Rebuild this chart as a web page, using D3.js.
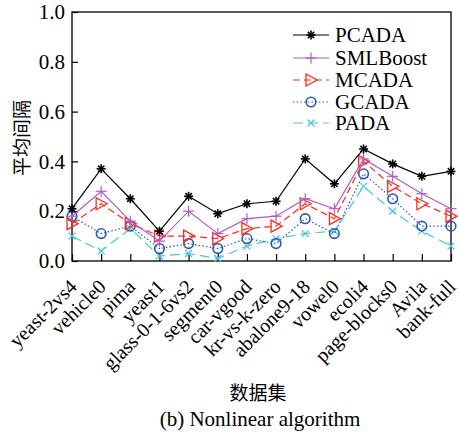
<!DOCTYPE html>
<html><head><meta charset="utf-8">
<script src="https://cdn.jsdelivr.net/npm/d3@7"></script>
<style>body{margin:0;background:#fff}</style>
</head><body>
<svg id="c" width="459" height="432"></svg>
<script>
const categories = ["yeast-2vs4","vehicle0","pima","yeast1","glass-0-1-6vs2","segment0","car-vgood","kr-vs-k-zero","abalone9-18","vowel0","ecoli4","page-blocks0","Avila","bank-full"];
const PCADA    = [0.21,0.37,0.25,0.12,0.26,0.19,0.23,0.24,0.41,0.31,0.45,0.39,0.34,0.36];
const SMLBoost = [0.18,0.28,0.16,0.08,0.20,0.11,0.17,0.18,0.25,0.21,0.41,0.34,0.27,0.21];
const MCADA    = [0.15,0.23,0.15,0.10,0.10,0.09,0.13,0.14,0.23,0.17,0.40,0.30,0.23,0.18];
const GCADA    = [0.18,0.11,0.14,0.05,0.07,0.05,0.09,0.07,0.17,0.11,0.35,0.25,0.14,0.14];
const PADA     = [0.10,0.04,0.13,0.02,0.03,0.01,0.06,0.09,0.11,0.12,0.30,0.20,0.12,0.06];
const yTicks = [0,0.2,0.4,0.6,0.8,1.0];
const seriesNames = ["PCADA","SMLBoost","MCADA","GCADA","PADA"];

const series = [
  {name:"PCADA", values:PCADA, color:"#000000", dash:null, marker:"star"},
  {name:"SMLBoost", values:SMLBoost, color:"#b05cc6", dash:null, marker:"plus"},
  {name:"MCADA", values:MCADA, color:"#ff2a1a", dash:"7,4", marker:"tri"},
  {name:"GCADA", values:GCADA, color:"#2a55c0", dash:"1.5,2.2", marker:"circle"},
  {name:"PADA", values:PADA, color:"#4cc6d8", dash:"10,5", marker:"x"}
];

const svg = d3.select("#c");
const L = 72, R = 451, T = 12, B = 261;
const serif = "'Liberation Serif','Times New Roman',serif";
const cjk = "'Noto Sans CJK SC','Noto Sans',sans-serif";

const x = d3.scalePoint().domain(categories).range([L, R]).padding(0);
const y = d3.scaleLinear().domain([0,1]).range([B, T]);

// frame
svg.append("rect").attr("x",L).attr("y",T).attr("width",R-L).attr("height",B-T)
  .attr("fill","none").attr("stroke","#000").attr("stroke-width",1.3);

// y axis
const yAxis = d3.axisLeft(y).tickValues(yTicks).tickFormat(d3.format(".1f")).tickSizeInner(-6).tickSizeOuter(0).tickPadding(7);
const gy = svg.append("g").attr("transform",`translate(${L},0)`).call(yAxis);
gy.select(".domain").remove();
gy.selectAll("line").attr("stroke","#000").attr("stroke-width",1.2);
gy.selectAll("text").attr("font-family",serif).attr("font-size",21).attr("fill","#000");

// x axis
const xAxis = d3.axisBottom(x).tickSizeInner(-7).tickSizeOuter(0).tickFormat("");
const gx = svg.append("g").attr("transform",`translate(0,${B})`).call(xAxis);
gx.select(".domain").remove();
gx.selectAll("line").attr("stroke","#000").attr("stroke-width",1.2);

svg.append("g").selectAll("text").data(categories).join("text")
  .attr("transform", d => `translate(${x(d)+6},${B+27}) rotate(-45)`)
  .attr("text-anchor","end")
  .attr("font-family",serif).attr("font-size",20).attr("fill","#000")
  .text(d => d);

// titles
svg.append("text").attr("transform","translate(29,138) rotate(-90)")
  .attr("text-anchor","middle").attr("font-family",cjk).attr("font-size",19).text("平均间隔");
svg.append("text").attr("x",258).attr("y",400).attr("text-anchor","middle")
  .attr("font-family",cjk).attr("font-size",19).text("数据集");
svg.append("text").attr("x",260).attr("y",426).attr("text-anchor","middle")
  .attr("font-family",serif).attr("font-size",21).text("(b) Nonlinear algorithm");

function drawMarker(g, type, color, cx, cy){
  const s = g.append("g").attr("transform",`translate(${cx},${cy})`)
    .attr("stroke",color).attr("fill","none").attr("stroke-width",1.2);
  if(type==="star"){
    const r=4.5;
    for(let a=0;a<180;a+=45){
      const t=a*Math.PI/180;
      s.append("line").attr("x1",-r*Math.cos(t)).attr("y1",-r*Math.sin(t)).attr("x2",r*Math.cos(t)).attr("y2",r*Math.sin(t)).attr("stroke-width",1.6);
    }
  } else if(type==="plus"){
    const r=5.5;
    s.append("line").attr("x1",-r).attr("x2",r).attr("y1",0).attr("y2",0);
    s.append("line").attr("y1",-r).attr("y2",r).attr("x1",0).attr("x2",0);
  } else if(type==="tri"){
    s.append("path").attr("d","M-5,-6L6,0L-5,6Z").attr("stroke-width",1.3);
  } else if(type==="circle"){
    s.append("circle").attr("r",4.8).attr("stroke-width",1.6);
  } else if(type==="x"){
    const r=3.5;
    s.append("line").attr("x1",-r).attr("y1",-r).attr("x2",r).attr("y2",r);
    s.append("line").attr("x1",-r).attr("y1",r).attr("x2",r).attr("y2",-r);
  }
}

const line = d3.line().x((d,i)=>x(categories[i])).y(d=>y(d));
const plot = svg.append("g");
series.slice().reverse().forEach(s=>{
  plot.append("path").datum(s.values).attr("d",line)
    .attr("fill","none").attr("stroke",s.color).attr("stroke-width",1.2)
    .attr("stroke-dasharray",s.dash);
  s.values.forEach((v,i)=>drawMarker(plot,s.marker,s.color,x(categories[i]),y(v)));
});

// legend
const legY = [35,58,80,102,123];
const leg = svg.append("g");
series.forEach((s,i)=>{
  leg.append("line").attr("x1",293).attr("x2",329).attr("y1",legY[i]).attr("y2",legY[i])
    .attr("stroke",s.color).attr("stroke-width",1.2).attr("stroke-dasharray",s.dash);
  drawMarker(leg,s.marker,s.color,311,legY[i]);
  leg.append("text").attr("x",335).attr("y",legY[i]).attr("dy","0.35em")
    .attr("font-family",serif).attr("font-size",21).text(s.name);
});
</script>
</body></html>
